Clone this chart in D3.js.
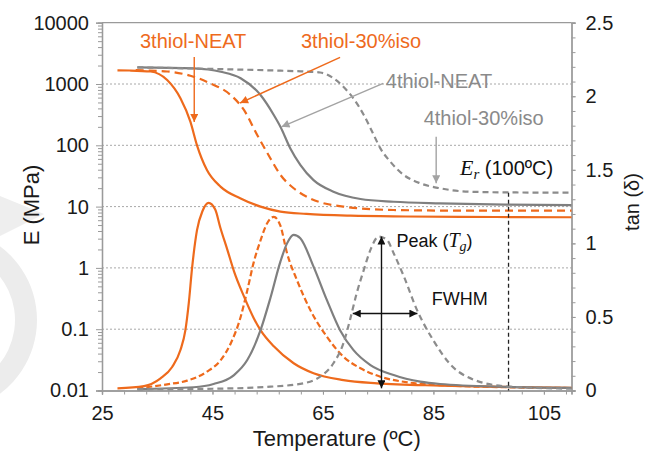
<!DOCTYPE html>
<html>
<head>
<meta charset="utf-8">
<script src="https://cdn.jsdelivr.net/npm/d3@7"></script>
<style>
html, body { margin: 0; padding: 0; background: #fff; }
svg text { font-family: "Liberation Sans", Arial, Helvetica, sans-serif; }
</style>
</head>
<body>
<svg id="chart" width="654" height="455"></svg>
<script>
// ---------- Storage modulus E (MPa) vs temperature (°C) ----------
const e3NeatT   = [27.8, 30, 33.8, 36.8, 39.2, 41, 42.2, 44, 46.5, 50.1, 53.7, 57.3, 62, 70, 80, 90, 100, 110];
const e3NeatE   = [1670, 1660, 1600, 1160, 585, 243, 100, 39.5, 21, 13.6, 10, 8.3, 7.6, 7.1, 6.9, 6.8, 6.75, 6.7];

const e3IsoT    = [31.1, 36.8, 41, 44.6, 48.3, 50.7, 53.1, 55.5, 57.3, 59.7, 62.7, 68.7, 77.7, 90, 110];
const e3IsoE    = [1680, 1600, 1365, 1025, 660, 377, 147, 61, 33, 19.9, 13.6, 10, 8.8, 8.6, 8.6];

const e4NeatT   = [31.4, 41.6, 46.5, 50.1, 53.7, 56.1, 57.3, 59.1, 60.9, 63.3, 66.9, 71.8, 77.8, 86.2, 98, 110];
const e4NeatE   = [1870, 1800, 1585, 1240, 660, 312, 201, 89, 48, 27, 17.5, 13.3, 12, 11.3, 10.8, 10.6];

const e4IsoT    = [31.4, 45, 57.3, 61, 64.5, 66.9, 68.7, 70.5, 72.4, 74.2, 75.4, 77.2, 79.6, 82.6, 86.2, 91.6, 100, 110];
const e4IsoE    = [1870, 1760, 1650, 1610, 1540, 1240, 903, 585, 312, 147, 89, 54, 33, 24, 19.9, 17.5, 17, 16.9];

// ---------- Loss factor tan(δ) vs temperature (°C) ----------
const t3NeatT   = [27.8, 32.6, 35.6, 37.7, 39.2, 40.1, 40.7, 41.3, 42.2, 43.2, 44.3, 45.5, 46.4, 47.7, 48.9, 50.7, 52.5, 53.7, 56.1, 59.7, 63.3, 68.7, 74.8, 86.2, 98, 110];
const t3NeatTan = [0.015, 0.03, 0.083, 0.16, 0.275, 0.41, 0.59, 0.83, 1.09, 1.22, 1.275, 1.23, 1.11, 0.956, 0.81, 0.64, 0.49, 0.41, 0.30, 0.185, 0.117, 0.071, 0.049, 0.033, 0.024, 0.018];

const t3IsoT    = [31.4, 36.8, 40.4, 44, 46.5, 48.3, 50.1, 51.3, 52.5, 53.7, 54.9, 56.1, 57.3, 58.5, 60.3, 62.7, 65.7, 68.7, 71.8, 75.4, 80.8, 86.2, 98, 110];
const t3IsoTan  = [0.015, 0.042, 0.067, 0.128, 0.207, 0.32, 0.50, 0.68, 0.876, 1.02, 1.137, 1.18, 1.12, 0.933, 0.75, 0.548, 0.366, 0.23, 0.151, 0.094, 0.053, 0.037, 0.022, 0.017];

const t4NeatT   = [31.4, 41.6, 45.2, 48.9, 51.3, 53.7, 55.5, 57.3, 58.5, 59.7, 60.9, 63.3, 65.7, 68.1, 70.5, 73.6, 77.8, 82.6, 86.2, 98, 110];
const t4NeatTan = [0.01, 0.022, 0.044, 0.105, 0.207, 0.41, 0.63, 0.876, 1.0, 1.058, 1.035, 0.842, 0.616, 0.41, 0.276, 0.173, 0.105, 0.06, 0.044, 0.025, 0.018];

const t4IsoT    = [31.4, 45, 55.5, 61.5, 64.5, 66.9, 68.7, 69.9, 71.1, 72.4, 73.6, 75.1, 76.6, 77.8, 79.6, 82, 85, 88, 92.2, 98.3, 110];
const t4IsoTan  = [0.008, 0.012, 0.026, 0.049, 0.094, 0.185, 0.32, 0.48, 0.66, 0.82, 0.956, 1.046, 1.024, 0.933, 0.78, 0.55, 0.34, 0.18, 0.075, 0.028, 0.012];

// ---------- Axes ----------
const xTickLabels   = [25, 45, 65, 85, 105];
const eTickLabels   = [0.01, 0.1, 1, 10, 100, 1000, 10000];
const tanTickLabels = [0, 0.5, 1, 1.5, 2, 2.5];

// ---------- Annotation values ----------
const erTemp    = 98.6;   // temperature of the rubbery-modulus reading line
const peakTemp  = 75.6;   // tan δ peak of 4thiol-30%iso
const peakTan   = 1.046;
const fwhmLow   = 70.4;
const fwhmHigh  = 82.1;

// ---------- Layout ----------
const svg = d3.select("#chart");
const plotL = 102, plotR = 571.5, plotT = 22.7, plotB = 390.5;

const x   = d3.scaleLinear().domain([25, 110]).range([plotL, plotR]);
const yE  = d3.scaleLog().domain([0.01, 10000]).range([plotB, plotT]);
const yT  = d3.scaleLinear().domain([0, 2.5]).range([plotB, plotT]);

const ORANGE = "#ee6a1c";
const GREY_D = "#7f7f7f";
const GREY_L = "#8c8c8c";
const GREY_T = "#8a8a8a";
const GREY_A = "#a3a3a3";
const AXIS   = "#9a9a9a";

// faint background watermark shapes
const wm = svg.append("g");
wm.append("path")
  .attr("d", d3.arc()({innerRadius: 70, outerRadius: 92, startAngle: 0.25, endAngle: 2.6}))
  .attr("transform", "translate(-55,320)")
  .attr("fill", "#ececec");
wm.append("path").attr("d", "M0,196 L44,214 L0,236 Z").attr("fill", "#eeeeee");

// horizontal dotted gridlines at every decade of E
svg.append("g").selectAll("line")
  .data(eTickLabels.slice(1, -1))
  .join("line")
  .attr("x1", plotL).attr("x2", plotR)
  .attr("y1", d => yE(d)).attr("y2", d => yE(d))
  .attr("stroke", "#a8a8a8").attr("stroke-width", 1)
  .attr("stroke-dasharray", "2,2");

// plot frame top edge
svg.append("line").attr("x1", plotL).attr("x2", plotR).attr("y1", plotT).attr("y2", plotT)
  .attr("stroke", AXIS).attr("stroke-width", 1.3);

function styleAxis(g) {
  g.select(".domain").attr("stroke", AXIS).attr("stroke-width", 1.3);
  g.selectAll(".tick line").attr("stroke", AXIS);
  g.selectAll(".tick text").attr("fill", "#1a1a1a").attr("font-size", 20)
    .attr("font-family", "'Liberation Sans', Arial, sans-serif");
}

// left log axis (major + minor)
const minorE = [];
for (let p = -2; p < 4; p++) for (let m = 2; m <= 9; m++) minorE.push(m * Math.pow(10, p));
svg.append("g").attr("transform", `translate(${plotL},0)`)
  .call(d3.axisLeft(yE).tickValues(minorE).tickSize(4).tickFormat(""))
  .call(styleAxis);
svg.append("g").attr("transform", `translate(${plotL},0)`)
  .call(d3.axisLeft(yE).tickValues(eTickLabels).tickSize(6).tickPadding(7).tickFormat(d3.format("~g")))
  .call(styleAxis);

// right tan δ axis
svg.append("g").attr("transform", `translate(${plotR},0)`)
  .call(d3.axisRight(yT).tickValues(d3.range(0, 2.51, 0.1)).tickSize(4).tickFormat(""))
  .call(styleAxis);
svg.append("g").attr("transform", `translate(${plotR},0)`)
  .call(d3.axisRight(yT).tickValues(tanTickLabels).tickSize(4).tickPadding(10).tickFormat(d3.format("~g")))
  .call(styleAxis);

// bottom temperature axis
svg.append("g").attr("transform", `translate(0,${plotB})`)
  .call(d3.axisBottom(x).tickValues(d3.range(25, 111, 4)).tickSize(4).tickFormat(""))
  .call(styleAxis);
svg.append("g").attr("transform", `translate(0,${plotB})`)
  .call(d3.axisBottom(x).tickValues(xTickLabels).tickSize(4).tickPadding(11).tickFormat(d3.format("d")))
  .call(styleAxis);

// axis titles
svg.append("text").attr("transform", "translate(39,205) rotate(-90)")
  .attr("text-anchor", "middle").attr("font-size", 22).attr("fill", "#1a1a1a").text("E (MPa)");
svg.append("text").attr("transform", "translate(639,202) rotate(-90)")
  .attr("text-anchor", "middle").attr("font-size", 20).attr("fill", "#1a1a1a").text("tan (δ)");
svg.append("text").attr("x", (x(25) + x(110)) / 2).attr("y", 446)
  .attr("text-anchor", "middle").attr("font-size", 22).attr("fill", "#1a1a1a").text("Temperature (ºC)");

// ---------- Curves ----------
const series = [
  {T: e3NeatT, v: e3NeatE, y: yE, color: ORANGE, dash: null, w: 2.2},
  {T: e3IsoT,  v: e3IsoE,  y: yE, color: ORANGE, dash: "8,5", w: 2.2},
  {T: e4NeatT, v: e4NeatE, y: yE, color: GREY_D, dash: null, w: 2.2},
  {T: e4IsoT,  v: e4IsoE,  y: yE, color: GREY_L, dash: "6,4", w: 2.2},
  {T: t3NeatT, v: t3NeatTan, y: yT, color: ORANGE, dash: null, w: 2.2},
  {T: t3IsoT,  v: t3IsoTan,  y: yT, color: ORANGE, dash: "6,3", w: 2.2},
  {T: t4NeatT, v: t4NeatTan, y: yT, color: GREY_D, dash: null, w: 2.2},
  {T: t4IsoT,  v: t4IsoTan,  y: yT, color: GREY_L, dash: "6,4", w: 2.2}
];
const curves = svg.append("g").attr("fill", "none");
series.forEach(s => {
  const pts = s.T.map((t, i) => [t, s.v[i]]);
  const line = d3.line().x(d => x(d[0])).y(d => s.y(d[1])).curve(d3.curveMonotoneX);
  curves.append("path").attr("d", line(pts))
    .attr("stroke", s.color).attr("stroke-width", s.w)
    .attr("stroke-dasharray", s.dash);
});

// ---------- Arrowheads ----------
const defs = svg.append("defs");
function marker(id, color) {
  defs.append("marker").attr("id", id)
    .attr("viewBox", "0 0 10 10").attr("refX", 10).attr("refY", 5)
    .attr("markerUnits", "userSpaceOnUse").attr("markerWidth", 9).attr("markerHeight", 8)
    .attr("orient", "auto-start-reverse")
    .append("path").attr("d", "M0,0 L10,5 L0,10 Z").attr("fill", color);
}
marker("arrOrange", ORANGE);
marker("arrGrey", GREY_A);
marker("arrBlack", "#111");

function arrow(p1, p2, color, id, both) {
  const l = svg.append("line")
    .attr("x1", p1[0]).attr("y1", p1[1]).attr("x2", p2[0]).attr("y2", p2[1])
    .attr("stroke", color).attr("stroke-width", 1.4)
    .attr("marker-end", `url(#${id})`);
  if (both) l.attr("marker-start", `url(#${id})`);
}

// series labels with pointers
function label(tx, ty, text, color, anchor) {
  svg.append("text").attr("x", tx).attr("y", ty).attr("text-anchor", anchor || "middle")
    .attr("font-size", 20).attr("fill", color).text(text);
}
label(x(41.5), yE(3820), "3thiol-NEAT", ORANGE);
arrow([x(41.7), yE(2755)], [x(41.7), yE(240)], ORANGE, "arrOrange");

label(x(71.9), yE(3820), "3thiol-30%iso", ORANGE);
arrow([x(68.1), yE(2730)], [x(50.0), yE(490)], ORANGE, "arrOrange");

label(x(86.0), yE(851), "4thiol-NEAT", GREY_T);
arrow([x(75.9), yE(1025)], [x(57.5), yE(200)], GREY_A, "arrGrey");

label(x(94.1), yE(214), "4thiol-30%iso", GREY_T);
arrow([x(85.5), yE(138)], [x(85.5), yE(24)], GREY_A, "arrGrey");

// rubbery modulus reading
const er = svg.append("text").attr("x", x(89.8)).attr("y", yE(32.8)).attr("fill", "#111").attr("font-size", 20);
er.append("tspan").attr("font-family", "'Liberation Serif', 'Times New Roman', serif")
  .attr("font-style", "italic").attr("font-size", 22).text("E");
er.append("tspan").attr("font-family", "'Liberation Serif', 'Times New Roman', serif")
  .attr("font-style", "italic").attr("font-size", 15).attr("dy", 4).text("r");
er.append("tspan").attr("dy", -4).text(" (100ºC)");

svg.append("line").attr("x1", x(erTemp)).attr("x2", x(erTemp))
  .attr("y1", yE(16.9)).attr("y2", plotB)
  .attr("stroke", "#222").attr("stroke-width", 1.3).attr("stroke-dasharray", "4,3");

// peak and FWHM markers
arrow([x(peakTemp), yT(0.015)], [x(peakTemp), yT(peakTan)], "#111", "arrBlack", true);
arrow([x(fwhmLow), yT(peakTan / 2)], [x(fwhmHigh), yT(peakTan / 2)], "#111", "arrBlack", true);

const pk = svg.append("text").attr("x", x(78.3)).attr("y", yT(0.978)).attr("fill", "#111").attr("font-size", 18);
pk.append("tspan").text("Peak (");
pk.append("tspan").attr("font-family", "'Liberation Serif', 'Times New Roman', serif")
  .attr("font-style", "italic").attr("font-size", 20).text("T");
pk.append("tspan").attr("font-family", "'Liberation Serif', 'Times New Roman', serif")
  .attr("font-style", "italic").attr("font-size", 14).attr("dy", 4).text("g");
pk.append("tspan").attr("dy", -4).text(")");

svg.append("text").attr("x", x(84.7)).attr("y", yT(0.581)).attr("fill", "#111")
  .attr("font-size", 18).text("FWHM");
</script>
</body>
</html>
